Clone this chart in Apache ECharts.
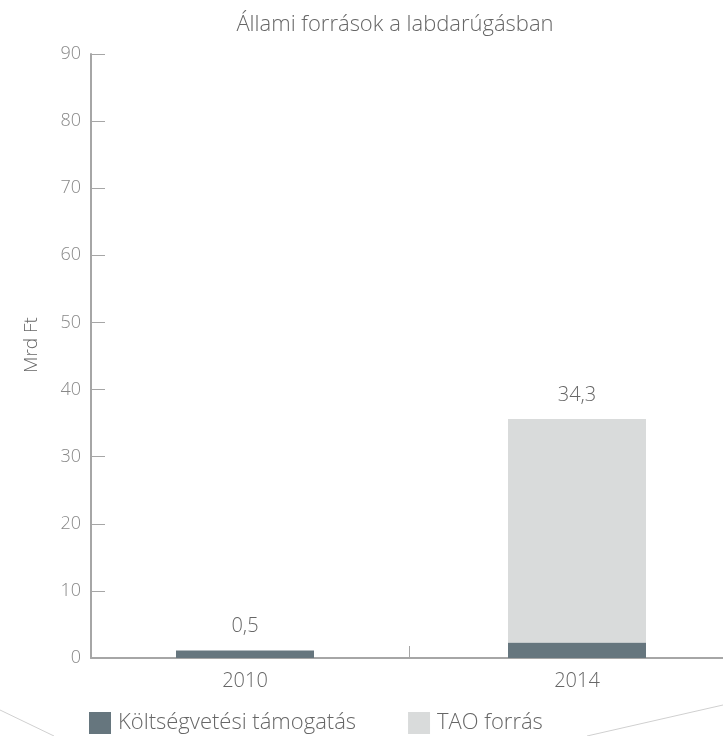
<!DOCTYPE html>
<html><head><meta charset="utf-8">
<script src="https://cdn.jsdelivr.net/npm/echarts@6/dist/echarts.min.js"></script>
<style>html,body{margin:0;padding:0;background:#fff}#c{width:723px;height:736px}</style>
</head><body><div id="c"></div>
<script>
const years = ['2010', '2014'];
const budget = [1.1, 2.3];      // Költségvetési támogatás
const tao = [0, 33.3];          // TAO forrás
const totalLabels = ['0,5', '34,3'];
const yTicks = [0, 10, 20, 30, 40, 50, 60, 70, 80, 90];

const font = '"Open Sans", Lato, sans-serif';
const chart = echarts.init(document.getElementById('c'));
chart.setOption({
  animation: false,
  textStyle: { fontFamily: font },
  title: {
    text: 'Állami források a labdarúgásban',
    left: 390, top: 9, textAlign: 'center',
    textStyle: { fontFamily: font, fontWeight: 300, fontSize: 22, color: '#666' }
  },
  legend: {
    left: 89, top: 712, padding: 0, itemWidth: 22, itemHeight: 22, itemGap: 52,
    icon: 'rect',
    textStyle: { fontFamily: font, fontWeight: 300, fontSize: 22, color: '#666', padding: [0, 0, 0, 2] },
    data: ['Költségvetési támogatás', 'TAO forrás']
  },
  grid: [
    { left: 91, right: 0, top: 54, bottom: 78, outerBoundsMode: 'none' },
    { left: 79, width: 664, top: 54, bottom: 78, outerBoundsMode: 'none' }
  ],
  xAxis: [{
    type: 'value', min: -0.4639, max: 1.4398, gridIndex: 0,
    splitLine: { show: false },
    axisLine: { show: true, onZero: false, lineStyle: { color: '#a6a6a6', width: 2 } },
    axisTick: { show: true, inside: true, length: 12, customValues: [0.494], lineStyle: { color: '#a6a6a6', width: 1 } },
    axisLabel: {
      customValues: [0, 1], margin: 13,
      formatter: v => years[Math.round(v)],
      fontFamily: font, fontWeight: 300, fontSize: 20, color: '#666'
    }
  }, {
    type: 'category', gridIndex: 1, data: years, show: false
  }],
  yAxis: [{
    type: 'value', min: 0, max: 90, interval: 10, gridIndex: 0,
    name: 'Mrd Ft', nameLocation: 'middle', nameGap: 50,
    nameTextStyle: { fontFamily: font, fontWeight: 300, fontSize: 19, color: '#666', padding: [0, 0, 0, 22] },
    splitLine: { show: false },
    axisLine: { show: true, onZero: false, lineStyle: { color: '#a6a6a6', width: 2 } },
    axisTick: { show: true, inside: true, length: 14, lineStyle: { color: '#a6a6a6', width: 1 } },
    axisLabel: { margin: 10, fontFamily: font, fontWeight: 300, fontSize: 18, color: '#888',
      formatter: v => yTicks.includes(v) ? String(v) : '' }
  }, {
    type: 'value', min: 0, max: 90, gridIndex: 1, show: false
  }],
  series: [
    {
      name: 'Költségvetési támogatás', type: 'bar', stack: 'a', barWidth: 138,
      xAxisIndex: 1, yAxisIndex: 1,
      itemStyle: { color: '#66767e' },
      data: budget
    },
    {
      name: 'TAO forrás', type: 'bar', stack: 'a', barWidth: 138,
      xAxisIndex: 1, yAxisIndex: 1,
      itemStyle: { color: '#d9dbdb' },
      label: {
        show: true, position: 'top', distance: 14,
        formatter: p => totalLabels[p.dataIndex],
        fontFamily: font, fontWeight: 300, fontSize: 20, color: '#666'
      },
      data: tao
    }
  ],
  graphic: [
    { type: 'polyline', silent: true, shape: { points: [[0, 710], [54, 736]] }, style: { stroke: '#d0d0d0', lineWidth: 1 } },
    { type: 'polyline', silent: true, shape: { points: [[587, 736], [723, 705]] }, style: { stroke: '#d0d0d0', lineWidth: 1 } }
  ]
});
</script></body></html>
